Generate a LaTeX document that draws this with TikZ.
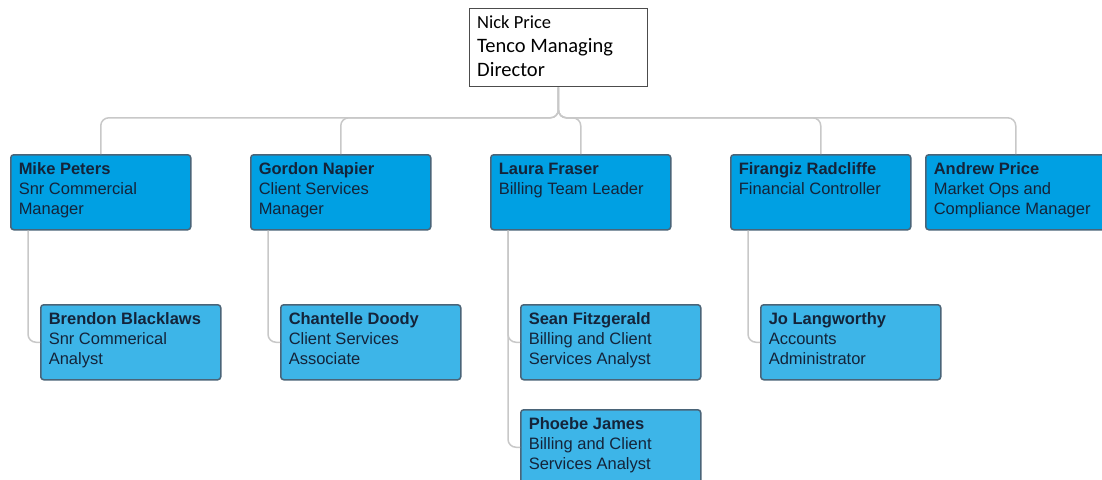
\documentclass[tikz,border=0pt]{standalone}
\usepackage{fontspec}
\setmainfont{Liberation Sans}
\newfontfamily\calib{Carlito}
\usetikzlibrary{calc}
\definecolor{mgrfill}{HTML}{00A0E3}
\definecolor{subfill}{HTML}{3DB5E8}
\definecolor{boxline}{HTML}{4A6478}
\definecolor{txt}{HTML}{14243A}
\definecolor{conn}{HTML}{C8C8C8}
\newcommand{\cardtext}[2]{\parbox[t][63pt][t]{164pt}{\fontsize{16.5}{20}\selectfont\color{txt}\vspace*{2pt}\textbf{#1}\\#2}}
\tikzset{
  card/.style={draw=boxline, line width=1.5pt, rounded corners=3pt, minimum width=180pt, minimum height=75pt, inner xsep=7pt, inner ysep=0pt, anchor=north west, align=left},
  mgr/.style={card, fill=mgrfill},
  sub/.style={card, fill=subfill},
  link/.style={draw=conn, line width=1.5pt, rounded corners=8pt},
}
\begin{document}
\begin{tikzpicture}[x=1pt,y=-1pt]
\useasboundingbox (0,0) rectangle (1102,479);
% top box
\node[draw=black!70, line width=0.8pt, fill=white, anchor=north west, minimum width=178pt, minimum height=78pt, inner sep=0pt] (nick) at (469,8) {};
\node[anchor=north west, inner sep=0pt] (nicktext) at (477,15) {\parbox[t]{168pt}{\calib\fontsize{18.5}{24}\selectfont Nick Price\par\fontsize{20.5}{24}\selectfont Tenco Managing\par Director}};
% managers
\node[mgr] (mike) at (10,154) {\cardtext{Mike Peters}{Snr Commercial\\Manager}};
\node[mgr] (gordon) at (250,154) {\cardtext{Gordon Napier}{Client Services\\Manager}};
\node[mgr] (laura) at (490,154) {\cardtext{Laura Fraser}{Billing Team Leader}};
\node[mgr] (firangiz) at (730,154) {\cardtext{Firangiz Radcliffe}{Financial Controller}};
\node[mgr] (andrew) at (925,154) {\cardtext{Andrew Price}{Market Ops and\\Compliance Manager}};
% subordinates
\node[sub] (brendon) at (40,304) {\cardtext{Brendon Blacklaws}{Snr Commerical\\Analyst}};
\node[sub] (chantelle) at (280,304) {\cardtext{Chantelle Doody}{Client Services\\Associate}};
\node[sub] (sean) at (520,304) {\cardtext{Sean Fitzgerald}{Billing and Client\\Services Analyst}};
\node[sub] (phoebe) at (520,409) {\cardtext{Phoebe James}{Billing and Client\\Services Analyst}};
\node[sub] (jo) at (760,304) {\cardtext{Jo Langworthy}{Accounts\\Administrator}};
% connectors
\foreach \c in {mike,gordon,laura,firangiz,andrew}{
  \path[link] ($(nick.south)+(0,0.5)$) -- ($(nick.south)+(0,31)$) -| (\c.north);
}
\path[link] ($(mike.south west)+(18,0)$) |- (brendon.west);
\path[link] ($(gordon.south west)+(18,0)$) |- (chantelle.west);
\path[link] ($(laura.south west)+(18,0)$) |- (sean.west);
\path[link] ($(laura.south west)+(18,0)$) |- (phoebe.west);
\path[link] ($(firangiz.south west)+(18,0)$) |- (jo.west);
\end{tikzpicture}
\end{document}
